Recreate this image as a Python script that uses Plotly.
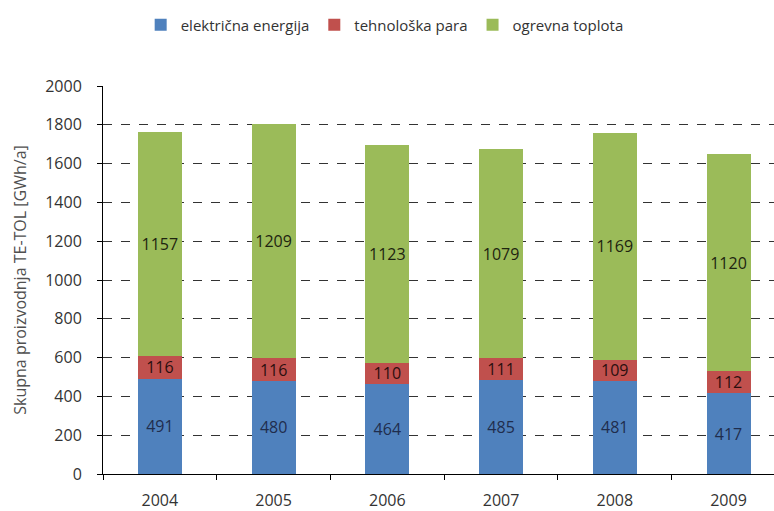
import plotly.graph_objects as go

# Annual production of TE-TOL by energy type
years = ["2004", "2005", "2006", "2007", "2008", "2009"]
elektricna = [491, 480, 464, 485, 481, 417]
tehnoloska = [116, 116, 110, 111, 109, 112]
ogrevna = [1157, 1209, 1123, 1079, 1169, 1120]

series = [
    ("električna energija", elektricna, "#4F81BD", "#1F2D4D"),
    ("tehnološka para", tehnoloska, "#C0504D", "#2B0F0F"),
    ("ogrevna toplota", ogrevna, "#9BBB59", "#1E2410"),
]

FONT = "Open Sans"

fig = go.Figure()
for name, vals, color, tcolor in series:
    fig.add_trace(go.Bar(
        name=name,
        x=years,
        y=vals,
        marker=dict(color=color, line=dict(width=0)),
        text=[str(v) for v in vals],
        textposition="inside",
        insidetextanchor="middle",
        textangle=0,
        textfont=dict(family=FONT, size=16, color=tcolor),
        hoverinfo="skip",
    ))

fig.update_layout(
    barmode="stack",
    bargap=0.613,
    width=774,
    height=511,
    margin=dict(l=103, r=0, t=86, b=37),
    paper_bgcolor="white",
    plot_bgcolor="white",
    font=dict(family=FONT, size=16, color="#404040"),
    uniformtext=dict(minsize=16, mode="show"),
    legend=dict(
        orientation="h",
        traceorder="normal",
        xref="container", yref="container",
        x=0.497, xanchor="center",
        y=1 - 25 / 511, yanchor="middle",
        font=dict(family=FONT, size=15, color="#333333"),
        itemwidth=30,
        bgcolor="rgba(0,0,0,0)",
    ),
    showlegend=True,
)

fig.update_xaxes(
    type="category",
    range=[-0.5, 5.40],
    showline=True,
    linecolor="black",
    linewidth=1,
    ticks="outside",
    tickson="boundaries",
    ticklen=5,
    tickcolor="black",
    ticklabelstandoff=12,
    showgrid=False,
    tickfont=dict(family=FONT, size=16, color="#333333"),
)

fig.update_yaxes(
    range=[0, 2000],
    dtick=200,
    showline=True,
    linecolor="black",
    linewidth=1,
    ticks="outside",
    ticklen=5,
    tickcolor="black",
    ticklabelstandoff=12,
    showgrid=True,
    gridcolor="#333333",
    gridwidth=1.4,
    griddash="dash",
    zeroline=False,
    tickfont=dict(family=FONT, size=16, color="#333333"),
    title=dict(
        text="Skupna proizvodnja TE-TOL [GWh/a]",
        font=dict(family=FONT, size=16, color="#505050"),
        standoff=14,
    ),
)

fig.write_html("out.html")
